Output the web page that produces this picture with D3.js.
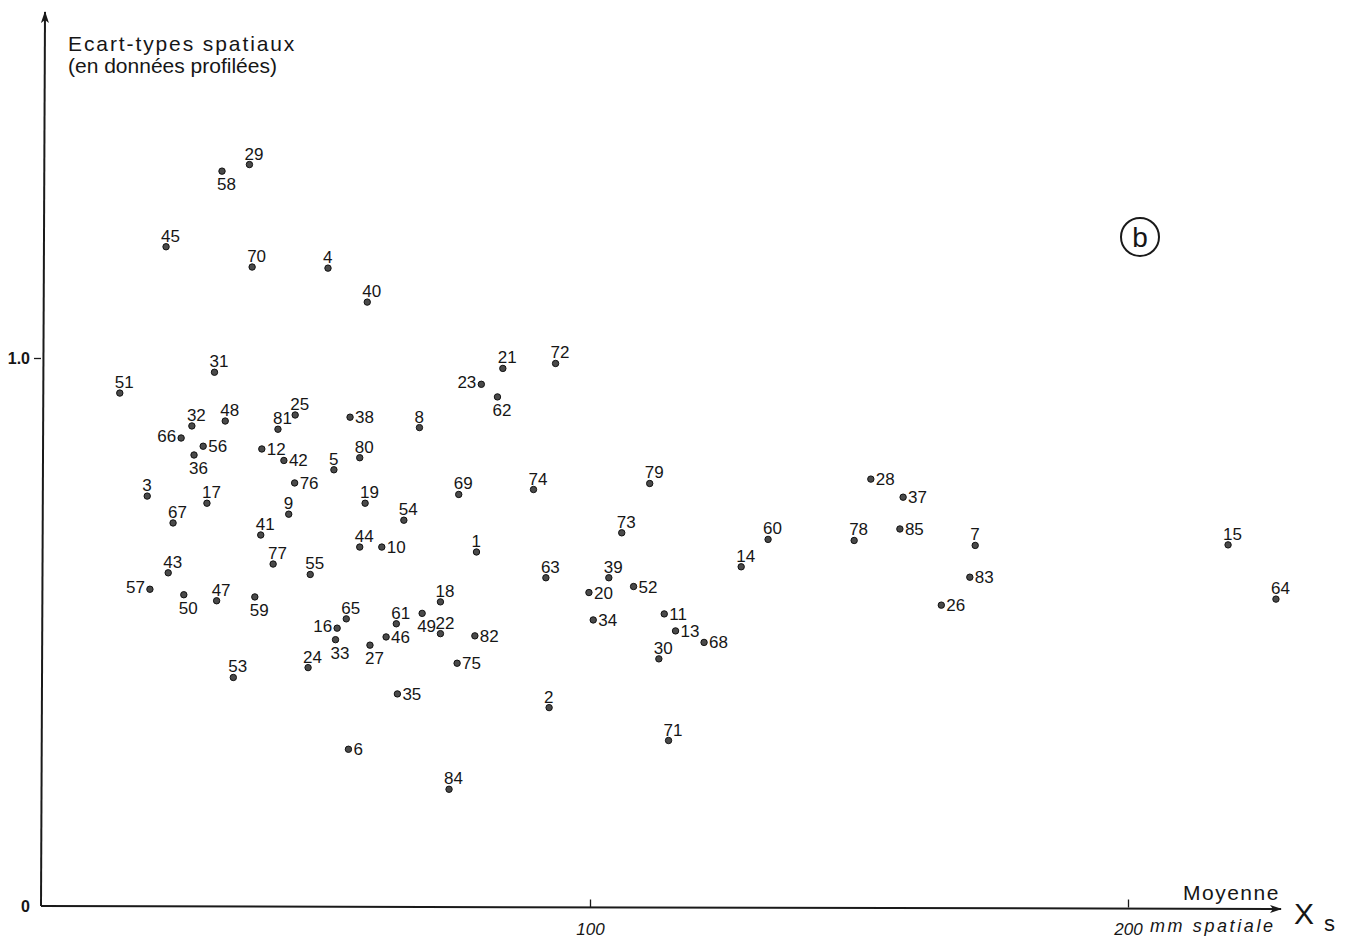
<!DOCTYPE html>
<html>
<head>
<meta charset="utf-8">
<script src="https://cdn.jsdelivr.net/npm/d3@7"></script>
<style>
  html, body { margin: 0; padding: 0; background: #fff; }
  svg { display: block; }
  text { font-family: "Liberation Sans", Arial, sans-serif; fill: #161616; }
</style>
</head>
<body>
<svg id="chart" width="1357" height="938"></svg>
<script>
// ---- data ----
const ids = [1,2,3,4,5,6,7,8,9,10,11,12,13,14,15,16,17,18,19,20,21,22,23,24,25,26,27,28,29,30,
             31,32,33,34,35,36,37,38,39,40,41,42,43,44,45,46,47,48,49,50,51,52,53,54,55,56,57,58,59,60,
             61,62,63,64,65,66,67,68,69,70,71,72,73,74,75,76,77,78,79,80,81,82,83,84,85];
// mean (Moyenne spatiale, mm)
const meanValues = [78.9,92.4,17.7,51.3,52.4,55.1,171.6,68.3,44.0,61.3,113.8,39.0,115.9,128.1,218.6,53.0,28.8,72.2,58.2,99.8,
                    83.8,72.2,79.8,47.6,45.2,165.3,59.1,152.2,36.7,112.8,30.2,26.0,52.7,100.6,64.2,26.4,158.2,55.4,103.5,58.6,
                    38.8,43.1,21.6,57.2,21.2,62.1,30.6,32.2,68.8,24.5,12.6,108.1,33.7,65.4,48.0,28.1,18.2,31.6,37.7,133.1,
                    64.0,82.8,91.8,227.5,54.7,24.0,22.5,121.2,75.6,37.2,114.6,93.6,105.9,89.5,75.3,45.1,41.1,149.1,111.1,57.2,
                    42.0,78.6,170.6,73.8,157.6];
// spatial standard deviation (profiled data)
const sdValues = [0.646,0.362,0.748,1.164,0.796,0.286,0.658,0.873,0.715,0.655,0.533,0.834,0.502,0.619,0.659,0.507,0.735,0.555,0.735,0.572,
                  0.981,0.497,0.952,0.435,0.896,0.549,0.476,0.779,1.353,0.451,0.974,0.876,0.486,0.522,0.387,0.823,0.746,0.892,0.599,1.102,
                  0.677,0.813,0.608,0.655,1.203,0.491,0.557,0.885,0.534,0.568,0.936,0.583,0.417,0.704,0.605,0.839,0.578,1.341,0.564,0.669,
                  0.515,0.929,0.599,0.560,0.524,0.854,0.699,0.481,0.751,1.166,0.302,0.990,0.681,0.760,0.443,0.772,0.624,0.667,0.771,0.818,
                  0.870,0.493,0.600,0.213,0.688];
// which side of the dot each number is lettered on (a=above, b=below, r=right, l=left)
const labelSide = ["a","a","a","a","a","r","a","a","a","r","r","r","r","a","a","l","a","a","a","r",
                   "a","a","l","a","a","r","b","r","a","a","a","a","b","r","r","b","r","r","a","a",
                   "a","r","a","a","a","r","a","a","b","b","a","r","a","a","a","r","l","b","b","a",
                   "a","b","a","a","a","l","a","r","a","a","a","a","a","a","r","r","a","a","a","a",
                   "a","r","r","a","r"];
const xTicks = [100, 200];
const xTickLabels = ["100", "200"];
const yTicks = [0, 1];
const yTickLabels = ["0", "1.0"];

const points = ids.map((id, i) => ({ id, x: meanValues[i], y: sdValues[i], side: labelSide[i] }));

// ---- drawing ----
const svg = d3.select("#chart");
const x = d3.scaleLinear().domain([0, 200]).range([52, 1128]);
const y = d3.scaleLinear().domain([0, 1]).range([906, 358]);
const axisX0 = 41;       // where the vertical axis stands
const ink = "#1a1a1a";

// arrow marker
const defs = svg.append("defs");
defs.append("marker").attr("id", "arr").attr("viewBox", "0 0 12 8")
  .attr("refX", 11).attr("refY", 4).attr("markerWidth", 12).attr("markerHeight", 8)
  .attr("markerUnits", "userSpaceOnUse").attr("orient", "auto")
  .append("path").attr("d", "M0,0 L12,4 L0,8 L3,4 Z").attr("fill", ink);

// y axis line
svg.append("line").attr("x1", axisX0).attr("y1", y(0)).attr("x2", axisX0 + 4).attr("y2", 12)
  .attr("stroke", ink).attr("stroke-width", 2).attr("marker-end", "url(#arr)");
// x axis line
svg.append("line").attr("x1", axisX0).attr("y1", y(0)).attr("x2", 1281).attr("y2", y(0) + 3)
  .attr("stroke", ink).attr("stroke-width", 2).attr("marker-end", "url(#arr)");

// x ticks
const xAxis = d3.axisBottom(x).tickValues(xTicks).tickSize(-8).tickPadding(15)
  .tickFormat((d, i) => xTickLabels[i]);
const gx = svg.append("g").attr("transform", `translate(0,${y(0) + 1.5})`).call(xAxis);
gx.select(".domain").remove();
gx.selectAll(".tick line").attr("stroke", ink).attr("stroke-width", 1.3);
gx.selectAll(".tick text").attr("font-size", 17).attr("font-style", "italic")
  .style("font-family", "'Liberation Sans', Arial, sans-serif").attr("fill", ink);

// y ticks
const yAxis = d3.axisLeft(y).tickValues(yTicks).tickSize(7).tickPadding(4)
  .tickFormat((d, i) => yTickLabels[i]);
const gy = svg.append("g").attr("transform", `translate(${axisX0},0)`).call(yAxis);
gy.select(".domain").remove();
gy.selectAll(".tick line").attr("stroke", ink).attr("stroke-width", 1.3)
  .attr("opacity", d => d === 0 ? 0 : 1);
gy.selectAll(".tick text").attr("font-size", 16).attr("font-weight", "bold")
  .style("font-family", "'Liberation Sans', Arial, sans-serif").attr("fill", ink)
  .attr("x", -11);

// axis titles
svg.append("text").attr("x", 68).attr("y", 51).attr("font-size", 21).attr("letter-spacing", 1.9)
  .text("Ecart-types spatiaux");
svg.append("text").attr("x", 68).attr("y", 73).attr("font-size", 21).text("(en données profilées)");
svg.append("text").attr("x", 1183).attr("y", 900).attr("font-size", 21).attr("letter-spacing", 1.5)
  .text("Moyenne");
svg.append("text").attr("x", 1150).attr("y", 932).attr("font-size", 18).attr("font-style", "italic")
  .attr("letter-spacing", 2.6).text("mm spatiale");
svg.append("text").attr("x", 1294).attr("y", 924).attr("font-size", 30).text("X");
svg.append("text").attr("x", 1324).attr("y", 931).attr("font-size", 22).text("s");

// panel marker (b)
svg.append("circle").attr("cx", 1140).attr("cy", 237).attr("r", 19)
  .attr("fill", "none").attr("stroke", ink).attr("stroke-width", 2);
svg.append("text").attr("x", 1140).attr("y", 247).attr("text-anchor", "middle")
  .attr("font-size", 28).text("b");

// points
const g = svg.append("g");
g.selectAll("circle.pt").data(points).join("circle").attr("class", "pt")
  .attr("cx", d => x(d.x)).attr("cy", d => y(d.y)).attr("r", 3.2)
  .attr("fill", "#4a4a4a").attr("stroke", "#111").attr("stroke-width", 1);

const off = {
  a: { dx: -5, dy: -5, anchor: "start" },
  b: { dx: -5, dy: 19, anchor: "start" },
  r: { dx: 5, dy: 6, anchor: "start" },
  l: { dx: -5, dy: 4, anchor: "end" }
};
g.selectAll("text.lbl").data(points).join("text").attr("class", "lbl")
  .attr("x", d => x(d.x) + off[d.side].dx)
  .attr("y", d => y(d.y) + off[d.side].dy)
  .attr("text-anchor", d => off[d.side].anchor)
  .attr("font-size", 17)
  .text(d => d.id);
</script>
</body>
</html>
